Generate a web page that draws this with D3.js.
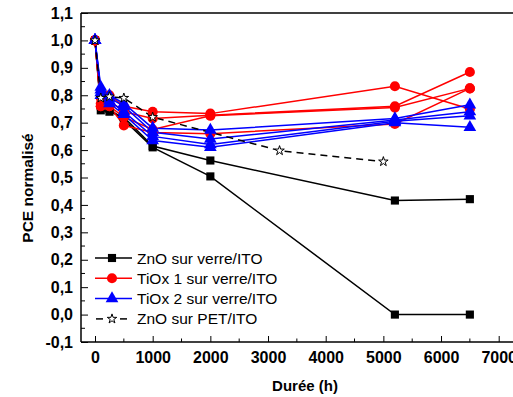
<!DOCTYPE html>
<html>
    <head>
        <title>PCE normalisé</title>
        <script src="https://d3js.org/d3.v7.min.js"></script>
        <style>
            body { margin: 0; background: #fff; }
            svg { display: block; font-family: 'Liberation Sans', Arial, sans-serif; }
        </style>
    </head>
    <body>
        <script>
            // temps de mesure (h)
            const timesGlass = [0, 100, 250, 500, 1000, 2000, 5200, 6500]
            const timesPet = [0, 100, 250, 500, 1000, 3200, 5000]

            // ZnO sur verre/ITO
            const zno1 = [1.0, 0.745, 0.74, 0.72, 0.615, 0.562, 0.416, 0.421]
            const zno2 = [1.0, 0.76, 0.75, 0.71, 0.61, 0.504, 0.0, 0.0]
            // TiOx 1 sur verre/ITO
            const tiox1a = [1.0, 0.79, 0.80, 0.76, 0.74, 0.733, 0.833, 0.75]
            const tiox1b = [1.0, 0.77, 0.78, 0.74, 0.715, 0.727, 0.76, 0.885]
            const tiox1c = [1.0, 0.76, 0.76, 0.72, 0.675, 0.725, 0.755, 0.825]
            const tiox1d = [1.0, 0.76, 0.76, 0.69, 0.664, 0.66, 0.695, 0.825]
            // TiOx 2 sur verre/ITO
            const tiox2a = [1.0, 0.83, 0.80, 0.77, 0.68, 0.673, 0.715, 0.765]
            const tiox2b = [1.0, 0.82, 0.79, 0.76, 0.665, 0.64, 0.71, 0.74]
            const tiox2c = [1.0, 0.81, 0.78, 0.74, 0.65, 0.62, 0.705, 0.725]
            const tiox2d = [1.0, 0.80, 0.77, 0.73, 0.635, 0.61, 0.70, 0.683]
            // ZnO sur PET/ITO
            const znoPet = [1.0, 0.79, 0.795, 0.79, 0.72, 0.598, 0.558]

            const xTicks = [0, 1000, 2000, 3000, 4000, 5000, 6000, 7000]
            const yTicks = [-0.1, 0.0, 0.1, 0.2, 0.3, 0.4, 0.5, 0.6, 0.7, 0.8, 0.9, 1.0, 1.1]
            const legendLabels = ['ZnO sur verre/ITO', 'TiOx 1 sur verre/ITO', 'TiOx 2 sur verre/ITO', 'ZnO sur PET/ITO']

            const svg = d3.select('body').append('svg')
                .attr('width', 513).attr('height', 397)

            const plotBox = { left: 81, top: 13, right: 516, bottom: 342 }

            const xScale = d3.scaleLinear().domain([-243, 7300]).range([plotBox.left, plotBox.right])
            const yScale = d3.scaleLinear().domain([-0.1, 1.1]).range([plotBox.bottom, plotBox.top])

            const fmt = d => d3.format('.1f')(d).replace('.', ',').replace('−', '-')

            const series = [
                { type: 'square', color: '#000', dash: null, times: timesGlass, vals: [zno1, zno2] },
                { type: 'circle', color: '#ff0000', dash: null, times: timesGlass, vals: [tiox1a, tiox1b, tiox1c, tiox1d] },
                { type: 'triangle', color: '#0000ff', dash: null, times: timesGlass, vals: [tiox2a, tiox2b, tiox2c, tiox2d] },
                { type: 'star', color: '#000', dash: '7,5', times: timesPet, vals: [znoPet] }
            ]

            const symbols = {
                square: d3.symbol().type(d3.symbolSquare).size(66),
                circle: d3.symbol().type(d3.symbolCircle).size(80),
                triangle: d3.symbol().type(d3.symbolTriangle).size(70),
                star: d3.symbol().type(d3.symbolStar).size(28)
            }

            const line = d3.line().x(d => xScale(d[0])).y(d => yScale(d[1]))

            const plot = svg.append('g')

            series.forEach(s => {
                s.vals.forEach(v => {
                    const pts = s.times.map((t, i) => [t, v[i]])
                    plot.append('path')
                        .attr('d', line(pts))
                        .attr('fill', 'none')
                        .attr('stroke', s.color)
                        .attr('stroke-width', 1.5)
                        .attr('stroke-dasharray', s.dash)
                })
            })

            series.forEach(s => {
                s.vals.forEach(v => {
                    const pts = s.times.map((t, i) => [t, v[i]])
                    plot.selectAll(null)
                        .data(pts).enter()
                        .append('path')
                            .attr('d', symbols[s.type])
                            .attr('transform', d => `translate(${xScale(d[0])}, ${yScale(d[1])})`)
                            .attr('fill', s.type === 'star' ? '#fff' : s.color)
                            .attr('stroke', s.type === 'star' ? '#000' : 'none')
                            .attr('stroke-width', 1)
                })
            })

            // axes (ticks vers l'intérieur)
            const xAxis = d3.axisBottom(xScale).tickValues(xTicks).tickSize(-6).tickPadding(10).tickFormat(d3.format('d'))
            const gx = svg.append('g').attr('transform', `translate(0, ${plotBox.bottom})`).call(xAxis)
            const xMinor = d3.range(500, 7300, 1000)
            gx.selectAll('.minor').data(xMinor).enter()
                .append('line')
                    .attr('x1', d => xScale(d)).attr('x2', d => xScale(d))
                    .attr('y1', 0).attr('y2', -3.5)
                    .attr('stroke', '#000')

            const yAxis = d3.axisLeft(yScale).tickValues(yTicks).tickSize(-7).tickPadding(8).tickFormat(fmt)
            const gy = svg.append('g').attr('transform', `translate(${plotBox.left}, 0)`).call(yAxis)
            const yMinor = d3.range(-0.05, 1.1, 0.1)
            gy.selectAll('.minor').data(yMinor).enter()
                .append('line')
                    .attr('x1', 0).attr('x2', 4)
                    .attr('y1', d => yScale(d)).attr('y2', d => yScale(d))
                    .attr('stroke', '#000')

            svg.selectAll('.domain').attr('stroke', '#000').attr('stroke-width', 1.5)
            gx.select('.domain').attr('d', `M${plotBox.left},0H513`)
            gy.select('.domain').attr('d', `M0,${plotBox.bottom}V${plotBox.top}`)
            svg.selectAll('.tick line').attr('stroke', '#000').attr('stroke-width', 1)
            svg.selectAll('.tick text')
                .attr('font-family', "'Liberation Sans', Arial, sans-serif")
                .attr('font-size', 16).attr('font-weight', 'bold').attr('fill', '#000')

            svg.append('line')
                .attr('x1', plotBox.left).attr('x2', 513)
                .attr('y1', plotBox.top).attr('y2', plotBox.top)
                .attr('stroke', '#000').attr('stroke-width', 1.5)

            svg.append('text')
                .attr('x', 305).attr('y', 391)
                .attr('text-anchor', 'middle')
                .attr('font-size', 15).attr('font-weight', 'bold')
                .text('Durée (h)')

            svg.append('text')
                .attr('transform', 'translate(33, 188) rotate(-90)')
                .attr('text-anchor', 'middle')
                .attr('font-size', 15.5).attr('font-weight', 'bold')
                .text('PCE normalisé')

            // légende
            const legend = svg.append('g')
            legendLabels.forEach((lab, i) => {
                const s = series[i]
                const y = 258 + i * 20.3
                const g = legend.append('g').attr('transform', `translate(0, ${y})`)
                if (s.type === 'star') {
                    g.append('line').attr('x1', 96).attr('x2', 103).attr('y1', 0).attr('y2', 0)
                        .attr('stroke', '#000').attr('stroke-width', 1.5)
                    g.append('line').attr('x1', 120).attr('x2', 127).attr('y1', 0).attr('y2', 0)
                        .attr('stroke', '#000').attr('stroke-width', 1.5)
                } else {
                    g.append('line').attr('x1', 95).attr('x2', 132).attr('y1', 0).attr('y2', 0)
                        .attr('stroke', s.color).attr('stroke-width', 1.5)
                }
                g.append('path')
                    .attr('d', symbols[s.type])
                    .attr('transform', 'translate(112, 0)')
                    .attr('fill', s.type === 'star' ? '#fff' : s.color)
                    .attr('stroke', s.type === 'star' ? '#000' : 'none')
                g.append('text')
                    .attr('x', 137).attr('y', 5.5)
                    .attr('font-size', 15.5)
                    .text(lab)
            })
        </script>
    </body>
</html>
